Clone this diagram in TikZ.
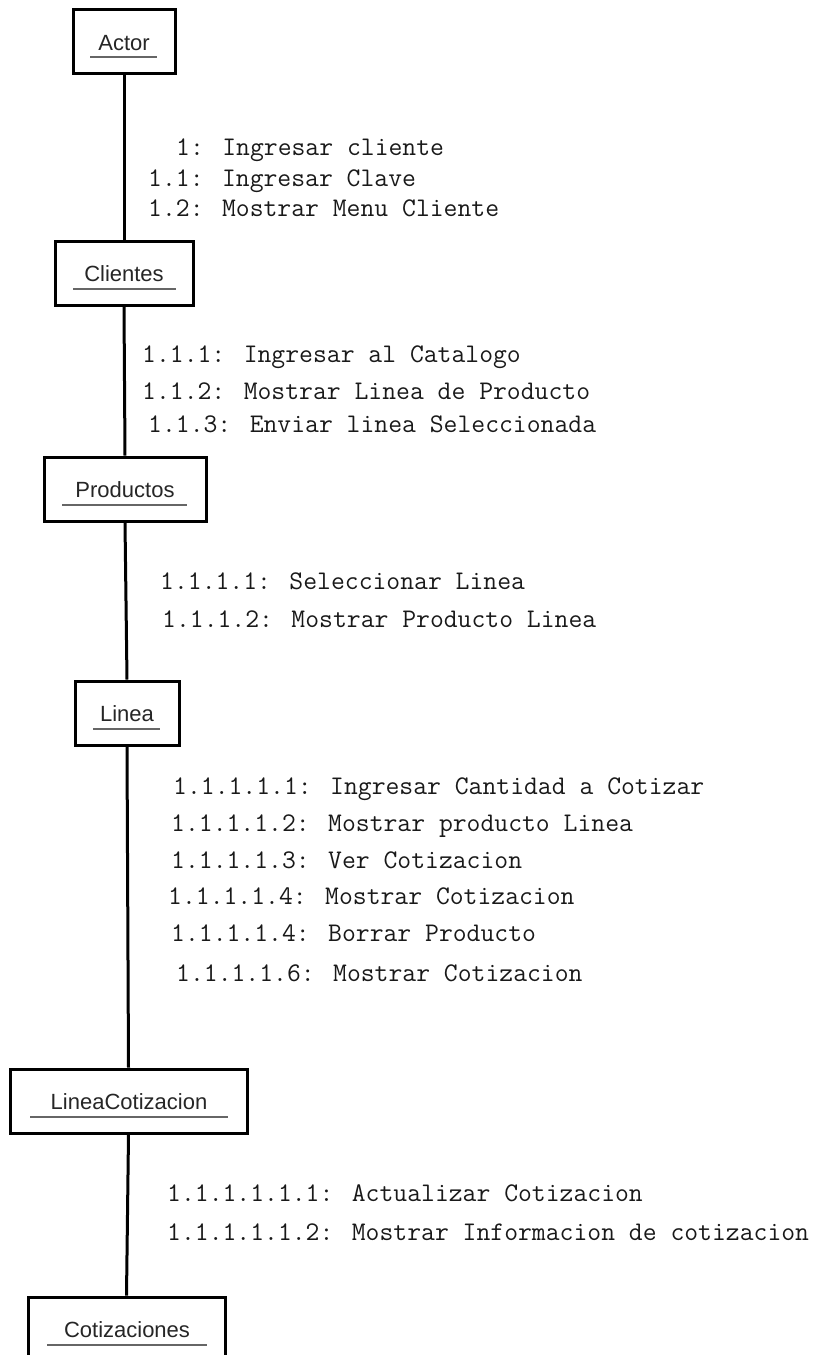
\documentclass[tikz,border=0pt]{standalone}
\usepackage{fontspec}
\setmainfont{Liberation Sans}
\begin{document}
\begin{tikzpicture}[x=1pt,y=-1pt,
  umlbox/.style={draw=black, line width=3pt, fill=white, inner sep=0pt, minimum height=64pt},
  boxlbl/.style={font=\fontsize{22}{22}\selectfont, text=black!85, anchor=base, inner sep=0pt},
  uline/.style={draw=black!60, line width=2pt},
  conn/.style={draw=black, line width=3pt},
  msg/.style={font=\ttfamily\fontsize{26.9}{26.9}\selectfont, anchor=base west, inner sep=0pt, text=black!90}]
\useasboundingbox (0,0) rectangle (815,1355);

% boxes
\node[umlbox, minimum width=102pt] (actor) at (124,41) {};
\node[umlbox, minimum width=138pt] (clientes) at (124,273) {};
\node[umlbox, minimum width=162pt] (productos) at (125,489) {};
\node[umlbox, minimum width=104pt] (linea) at (127,713) {};
\node[umlbox, minimum width=237pt] (lineacot) at (128.5,1101) {};
\node[umlbox, minimum width=197pt, minimum height=90pt] (cotiz) at (126.5,1342) {};

% labels
\node[boxlbl] (actorlbl) at (124,50) {Actor};
\node[boxlbl] (clienteslbl) at (124,281) {Clientes};
\node[boxlbl] (productoslbl) at (125,497) {Productos};
\node[boxlbl] (linealbl) at (127,721) {Linea};
\node[boxlbl] (lineacotlbl) at (129,1109) {LineaCotizacion};
\node[boxlbl] (cotizlbl) at (127,1337) {Cotizaciones};

% underlines
\draw[uline] (90,57) -- (157,57);
\draw[uline] (73,289) -- (176,289);
\draw[uline] (62,505) -- (187,505);
\draw[uline] (93,729) -- (160,729);
\draw[uline] (30,1117) -- (228,1117);
\draw[uline] (47,1345) -- (207,1345);

% connectors
\draw[conn] (actor.south) -- (clientes.north);
\draw[conn] (clientes.south) -- (productos.north);
\draw[conn] (productos.south) -- (linea.north);
\draw[conn] (linea.south) -- (lineacot.north);
\draw[conn] (lineacot.south) -- (cotiz.north);

% messages
\node[msg] (m1) at (176,155) {1: Ingresar cliente};
\node[msg] (m2) at (148,186) {1.1: Ingresar Clave};
\node[msg] (m3) at (148,216) {1.2: Mostrar Menu Cliente};

\node[msg] (m4) at (142,362) {1.1.1: Ingresar al Catalogo};
\node[msg] (m5) at (142,399) {1.1.2: Mostrar Linea de Producto};
\node[msg] (m6) at (148,432) {1.1.3: Enviar linea Seleccionada};

\node[msg] (m7) at (160,589) {1.1.1.1: Seleccionar Linea};
\node[msg] (m8) at (162,627) {1.1.1.2: Mostrar Producto Linea};

\node[msg] (m9) at (173,794) {1.1.1.1.1: Ingresar Cantidad a Cotizar};
\node[msg] (m10) at (171,831) {1.1.1.1.2: Mostrar producto Linea};
\node[msg] (m11) at (171,868) {1.1.1.1.3: Ver Cotizacion};
\node[msg] (m12) at (168,904) {1.1.1.1.4: Mostrar Cotizacion};
\node[msg] (m13) at (171,941) {1.1.1.1.4: Borrar Producto};
\node[msg] (m14) at (176,981) {1.1.1.1.6: Mostrar Cotizacion};

\node[msg] (m15) at (167,1201) {1.1.1.1.1.1: Actualizar Cotizacion};
\node[msg] (m16) at (167,1240) {1.1.1.1.1.2: Mostrar Informacion de cotizacion};
\end{tikzpicture}
\end{document}
